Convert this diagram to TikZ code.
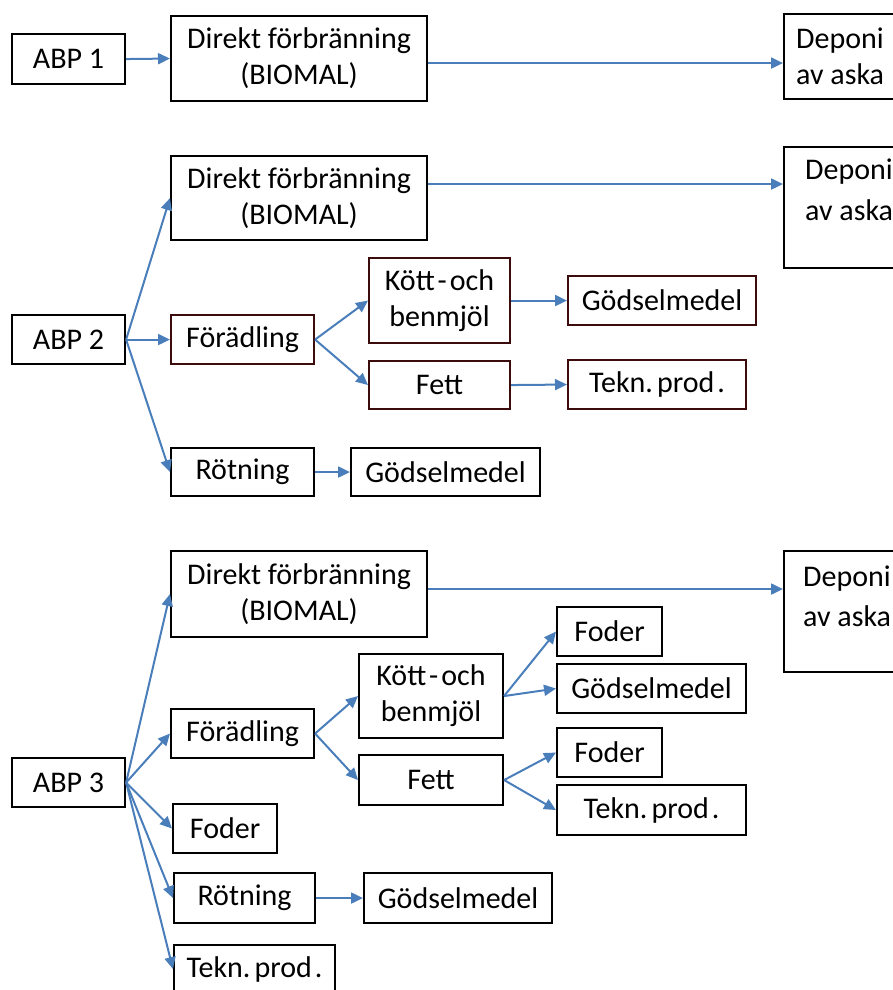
\documentclass[tikz,border=0pt]{standalone}
\usepackage{fontspec}
\setmainfont{Carlito}
\usetikzlibrary{arrows.meta}
\definecolor{arrowblue}{RGB}{74,126,187}
\definecolor{maroon}{RGB}{60,12,12}
\tikzset{
  box/.style={draw=black, line width=2.1pt, inner sep=0pt, align=center,
    font=\fontsize{30}{36}\selectfont, anchor=north west},
  mbox/.style={box, draw=maroon},
  deptext/.style={inner sep=0pt, align=left, anchor=west},
  arr/.style={draw=arrowblue, line width=2pt, -{Triangle[length=12pt,width=11pt]}},
}
\newcommand\teknprod{Tekn.\hspace{4pt}prod\hspace{3pt}.}
\newcommand\kottoch{Kött\hspace{3pt}-\hspace{3pt}och}
\begin{document}
\begin{tikzpicture}[x=1pt, y=-1pt]
\useasboundingbox (0,0) rectangle (893,990);
\clip (0,0) rectangle (893,990);
% ---------- ABP 1 ----------
\node[box, minimum width=113pt, minimum height=50pt] (abp1) at (11,33) {ABP 1};
\node[box, minimum width=256pt, minimum height=85pt] (d1) at (170,15) {Direkt förbränning\\(BIOMAL)};
\node[box, minimum width=130pt, minimum height=85pt] (dep1) at (783,13) {};
\node[deptext, font=\fontsize{30}{36}\selectfont] (dep1t) at (796,56) {Deponi\\av aska};
% ---------- ABP 2 ----------
\node[box, minimum width=113pt, minimum height=49pt] (abp2) at (11,314) {ABP 2};
\node[box, minimum width=256pt, minimum height=84pt] (d2) at (170,155) {Direkt förbränning\\(BIOMAL)};
\node[box, minimum width=130pt, minimum height=121pt] (dep2) at (783,146) {};
\node[deptext, font=\fontsize{30}{41}\selectfont] (dep2t) at (805,190) {Deponi\\av aska};
\node[mbox, minimum width=143pt, minimum height=49pt] (f2) at (170,314) {Förädling};
\node[mbox, minimum width=141pt, minimum height=85pt] (k2) at (368,257) {\kottoch\\benmjöl};
\node[mbox, minimum width=188pt, minimum height=49pt] (g2) at (567,275) {Gödselmedel};
\node[mbox, minimum width=141pt, minimum height=48pt] (fe2) at (368,360) {Fett};
\node[mbox, minimum width=178pt, minimum height=49pt] (t2) at (567,359) {\teknprod};
\node[box, minimum width=143pt, minimum height=48pt] (r2) at (170,447) {Rötning};
\node[box, minimum width=189pt, minimum height=48pt] (g2b) at (350,447) {Gödselmedel};
% ---------- ABP 3 ----------
\node[box, minimum width=113pt, minimum height=49pt] (abp3) at (11,757) {ABP 3};
\node[box, minimum width=256pt, minimum height=86pt] (d3) at (170,550) {Direkt förbränning\\(BIOMAL)};
\node[box, minimum width=130pt, minimum height=121pt] (dep3) at (783,550) {};
\node[deptext, font=\fontsize{30}{40}\selectfont] (dep3t) at (803,596) {Deponi\\av aska};
\node[box, minimum width=143pt, minimum height=49pt] (f3) at (170,708) {Förädling};
\node[box, minimum width=144pt, minimum height=84pt] (k3) at (358,653) {\kottoch\\benmjöl};
\node[box, minimum width=144pt, minimum height=50pt] (fe3) at (358,754) {Fett};
\node[box, minimum width=105pt, minimum height=49pt] (fo3a) at (556,606) {Foder};
\node[box, minimum width=189pt, minimum height=49pt] (g3a) at (556,663) {Gödselmedel};
\node[box, minimum width=105pt, minimum height=49pt] (fo3b) at (556,727) {Foder};
\node[box, minimum width=189pt, minimum height=50pt] (t3a) at (556,784) {\teknprod};
\node[box, minimum width=104pt, minimum height=49pt] (fo3c) at (172,803) {Foder};
\node[box, minimum width=141pt, minimum height=50pt] (r3) at (173,872) {Rötning};
\node[box, minimum width=188pt, minimum height=50pt] (g3b) at (363,872) {Gödselmedel};
\node[box, minimum width=161pt, minimum height=48pt] (t3b) at (173,944) {\teknprod};
% ---------- connectors ----------
\draw[arr] (abp1.east) -- (d1.west);
\draw[arr] ([yshift=-4.5pt]d1.east) -- ([yshift=-6.5pt]dep1.west);
\draw[arr] (abp2.east) -- (d2.west);
\draw[arr] (abp2.east) -- (f2.west);
\draw[arr] (abp2.east) -- (r2.west);
\draw[arr] ([yshift=14pt]d2.east) -- ([yshift=23.5pt]dep2.west);
\draw[arr] (f2.east) -- (k2.west);
\draw[arr] (f2.east) -- (fe2.west);
\draw[arr] (k2.east) -- (g2.west);
\draw[arr] (fe2.east) -- (t2.west);
\draw[arr] (r2.east) -- (g2b.west);
\draw[arr] (abp3.east) -- (d3.west);
\draw[arr] (abp3.east) -- (f3.west);
\draw[arr] (abp3.east) -- (fo3c.west);
\draw[arr] (abp3.east) -- (r3.west);
\draw[arr] (abp3.east) -- (t3b.west);
\draw[arr] ([yshift=5pt]d3.east) -- ([yshift=22.5pt]dep3.west);
\draw[arr] (f3.east) -- (k3.west);
\draw[arr] (f3.east) -- (fe3.west);
\draw[arr] (k3.east) -- (fo3a.west);
\draw[arr] (k3.east) -- (g3a.west);
\draw[arr] (fe3.east) -- (fo3b.west);
\draw[arr] (fe3.east) -- (t3a.west);
\draw[arr] (r3.east) -- (g3b.west);
\end{tikzpicture}
\end{document}
